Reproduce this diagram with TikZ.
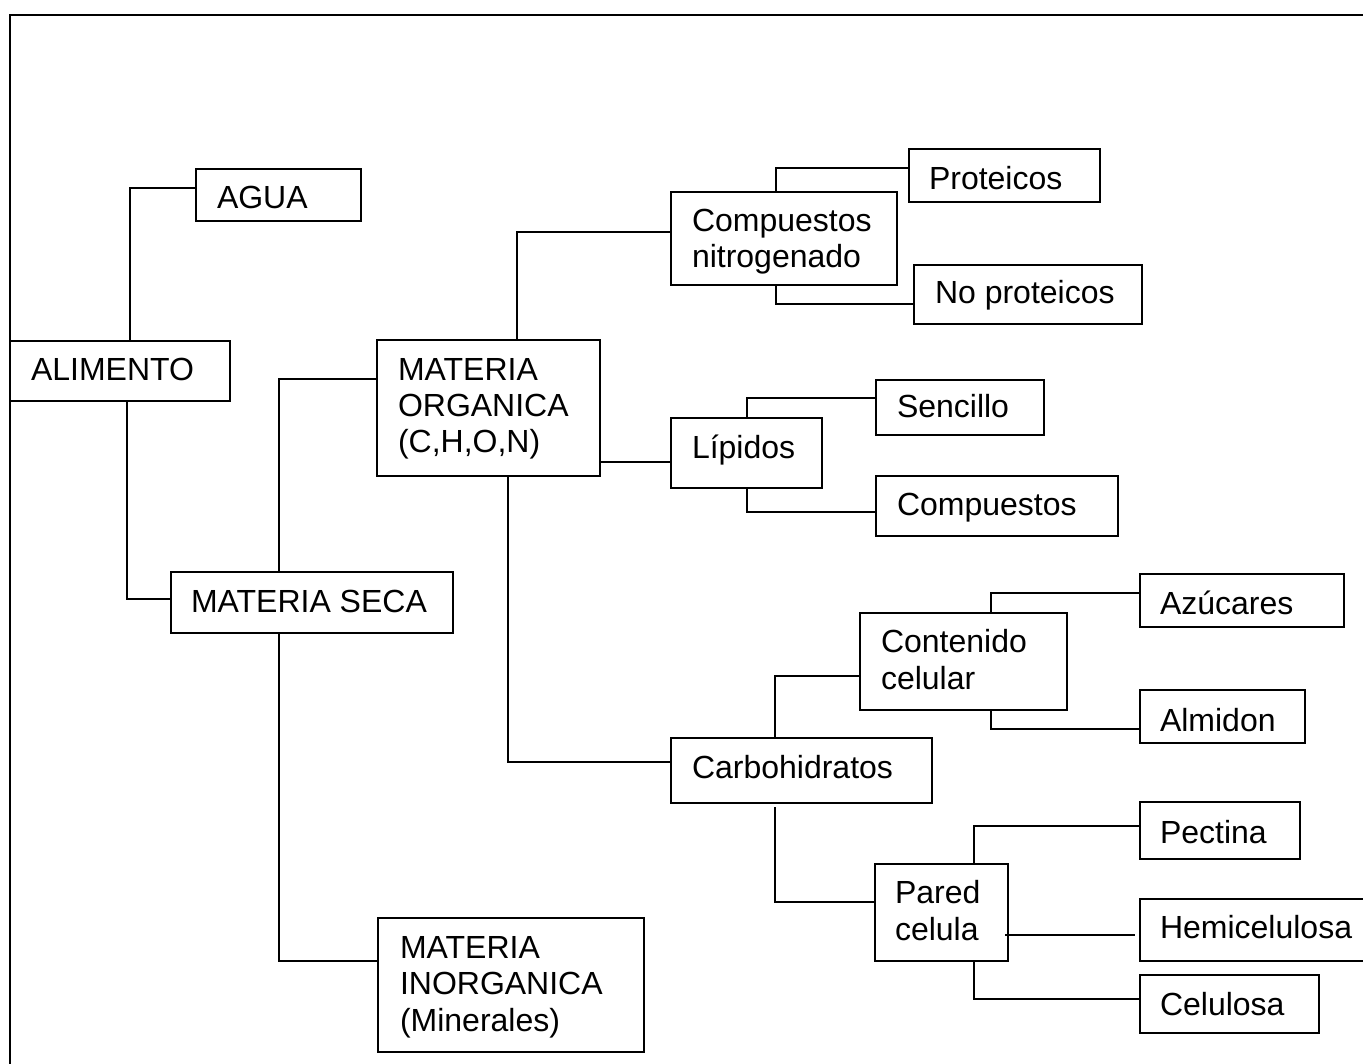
\documentclass[tikz,border=0pt]{standalone}
\usepackage{fontspec}
\setmainfont{Liberation Sans}
\begin{document}
\begin{tikzpicture}[x=1pt,y=-1pt,
  box/.style={draw,line width=1.5pt,rectangle,anchor=north west,inner sep=0pt,outer sep=0pt},
  lbl/.style={anchor=base west,inner sep=0pt,outer sep=0pt,align=left,font=\fontsize{32}{36.3}\selectfont},
  conn/.style={line width=1.5pt}]
\useasboundingbox (0,0) rectangle (1363,1064);
\clip (0,0) rectangle (1363,1064);
% frame
\draw[conn] (1370,15) -- (10,15) -- (10,1070);
% boxes
\node[box,minimum width=165pt,minimum height=52pt] (agua) at (196,169) {};
\node[box,minimum width=220pt,minimum height=60pt] (alim) at (10,341) {};
\node[box,minimum width=282pt,minimum height=61pt] (ms) at (171,572) {};
\node[box,minimum width=266pt,minimum height=134pt] (mi) at (378,918) {};
\node[box,minimum width=223pt,minimum height=136pt] (mo) at (377,340) {};
\node[box,minimum width=226pt,minimum height=93pt] (cn) at (671,192) {};
\node[box,minimum width=191pt,minimum height=53pt] (prot) at (909,149) {};
\node[box,minimum width=228pt,minimum height=59pt] (noprot) at (914,265) {};
\node[box,minimum width=151pt,minimum height=70pt] (lip) at (671,418) {};
\node[box,minimum width=168pt,minimum height=55pt] (senc) at (876,380) {};
\node[box,minimum width=242pt,minimum height=60pt] (compl) at (876,476) {};
\node[box,minimum width=261pt,minimum height=65pt] (carb) at (671,738) {};
\node[box,minimum width=207pt,minimum height=97pt] (cc) at (860,613) {};
\node[box,minimum width=204pt,minimum height=53pt] (azu) at (1140,574) {};
\node[box,minimum width=165pt,minimum height=53pt] (alm) at (1140,690) {};
\node[box,minimum width=133pt,minimum height=97pt] (pc) at (875,864) {};
\node[box,minimum width=160pt,minimum height=57pt] (pect) at (1140,802) {};
\node[box,minimum width=260pt,minimum height=62pt] (hemi) at (1140,899) {};
\node[box,minimum width=179pt,minimum height=58pt] (celu) at (1140,975) {};
% labels (multi-line labels are anchored at the baseline of their last line)
\node[lbl] (t-agua) at (217,209) {AGUA};
\node[lbl] (t-alim) at (31,381) {ALIMENTO};
\node[lbl] (t-mo) at (398,453) {MATERIA\\ORGANICA\\(C,H,O,N)};
\node[lbl] (t-ms) at (191,612) {MATERIA SECA};
\node[lbl] (t-mi) at (400,1031) {MATERIA\\INORGANICA\\(Minerales)};
\node[lbl] (t-cn) at (692,268) {Compuestos\\nitrogenado};
\node[lbl] (t-prot) at (929,190) {Proteicos};
\node[lbl] (t-noprot) at (935,304) {No proteicos};
\node[lbl] (t-lip) at (692,458) {Lípidos};
\node[lbl] (t-senc) at (897,418) {Sencillo};
\node[lbl] (t-compl) at (897,515) {Compuestos};
\node[lbl] (t-carb) at (692,778) {Carbohidratos};
\node[lbl] (t-cc) at (881,689) {Contenido\\celular};
\node[lbl] (t-azu) at (1160,614) {Azúcares};
\node[lbl] (t-alm) at (1160,731) {Almidon};
\node[lbl] (t-pect) at (1160,843) {Pectina};
\node[lbl] (t-pc) at (895,940) {Pared\\celula};
\node[lbl] (t-hemi) at (1160,938) {Hemicelulosa};
\node[lbl] (t-celu) at (1160,1015) {Celulosa};
% connectors
\draw[conn] ([xshift=120pt]alim.north west) |- ([yshift=-19pt]agua.north west);
\draw[conn] ([xshift=117pt]alim.south west) |- ([yshift=-27pt]ms.north west);
\draw[conn] ([xshift=108pt]ms.north west) |- ([yshift=-39pt]mo.north west);
\draw[conn] ([xshift=108pt]ms.south west) |- ([yshift=-43pt]mi.north west);
\draw[conn] ([xshift=140pt]mo.north west) |- ([yshift=-40pt]cn.north west);
\draw[conn] ([yshift=-44pt]lip.north west) -- ([yshift=-44pt]lip.north west -| mo.east);
\draw[conn] ([xshift=131pt]mo.south west) |- ([yshift=-24pt]carb.north west);
\draw[conn] ([xshift=105pt]cn.north west) |- ([yshift=-19pt]prot.north west);
\draw[conn] ([xshift=105pt]cn.south west) |- ([yshift=-39pt]noprot.north west);
\draw[conn] ([xshift=76pt]lip.north west) |- ([yshift=-18pt]senc.north west);
\draw[conn] ([xshift=76pt]lip.south west) |- ([yshift=-36pt]compl.north west);
\draw[conn] ([xshift=104pt]carb.north west) |- ([yshift=-63pt]cc.north west);
\draw[conn] ([xshift=104pt,yshift=-4pt]carb.south west) |- ([yshift=-38pt]pc.north west);
\draw[conn] ([xshift=131pt]cc.north west) |- ([yshift=-19pt]azu.north west);
\draw[conn] ([xshift=131pt]cc.south west) |- ([yshift=-39pt]alm.north west);
\draw[conn] ([xshift=99pt]pc.north west) |- ([yshift=-24pt]pect.north west);
\draw[conn] ([xshift=-3pt,yshift=-71pt]pc.north east) -- ([xshift=-5pt,yshift=-36pt]hemi.north west);
\draw[conn] ([xshift=99pt]pc.south west) |- ([yshift=-24pt]celu.north west);
\end{tikzpicture}
\end{document}
